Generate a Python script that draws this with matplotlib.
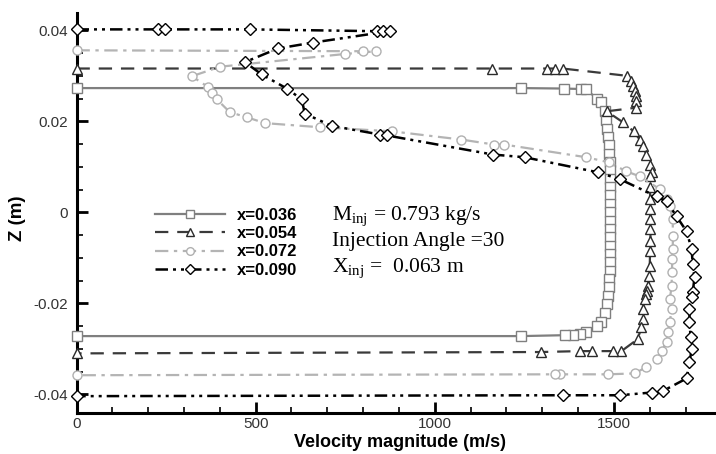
import matplotlib
matplotlib.use("Agg")
import matplotlib.pyplot as plt

plt.rcParams['font.family'] = ['Liberation Sans', 'DejaVu Sans']
plt.rcParams['mathtext.fontset'] = 'custom'
plt.rcParams['mathtext.rm'] = 'Liberation Serif'
plt.rcParams['mathtext.it'] = 'Liberation Serif:italic'

labels = ["x=0.036", "x=0.054", "x=0.072", "x=0.090"]

v036 = [0, 1242, 1360, 1407, 1423, 1452, 1465, 1474, 1479, 1482, 1484, 1486, 1487, 1488,
        1488, 1489, 1489, 1490, 1490, 1490, 1490, 1490, 1490, 1490, 1489, 1489, 1488, 1487,
        1486, 1484, 1481, 1476, 1465, 1452, 1423, 1405, 1385, 1363, 1242, 0]
z036 = [0.0273, 0.0273, 0.0272, 0.0271, 0.0270, 0.0250, 0.0242, 0.0222, 0.0202, 0.0183,
        0.0165, 0.0147, 0.0128, 0.0110, 0.0092, 0.0073, 0.0055, 0.0037, 0.0018, 0.0,
        -0.0018, -0.0037, -0.0055, -0.0073, -0.0092, -0.0110, -0.0128, -0.0147, -0.0165,
        -0.0183, -0.0202, -0.0222, -0.0242, -0.0250, -0.0264, -0.0268, -0.0269, -0.0270,
        -0.0272, -0.0272]

v054 = [0, 1159, 1312, 1337, 1357, 1536, 1549, 1553, 1558, 1561, 1563, 1563, 1480, 1525,
        1555, 1572, 1580, 1591, 1600, 1605, 1601, 1601, 1601, 1602, 1602, 1602, 1602, 1601,
        1600, 1598, 1596, 1593, 1591, 1586, 1580, 1580, 1577, 1566, 1521, 1497, 1438, 1405,
        1296, 0]
z054 = [0.0316, 0.0316, 0.0316, 0.0316, 0.0316, 0.0300, 0.0288, 0.0277, 0.0266, 0.0255,
        0.0244, 0.0230, 0.0222, 0.0198, 0.0178, 0.0160, 0.0145, 0.0127, 0.0105, 0.0088,
        0.0079, 0.0055, 0.0029, 0.0007, -0.0015, -0.0037, -0.0064, -0.0086, -0.0119,
        -0.0141, -0.0163, -0.0174, -0.0180, -0.0191, -0.0213, -0.0235, -0.0253, -0.0279,
        -0.0305, -0.0305, -0.0305, -0.0305, -0.0307, -0.0310]

v072 = [0, 800, 837, 750, 401, 322, 368, 378, 392, 428, 475, 526, 679, 880, 1073, 1165,
        1193, 1423, 1485, 1535, 1572, 1628, 1647, 1656, 1664, 1665, 1664, 1663, 1662, 1661,
        1656, 1661, 1656, 1650, 1647, 1633, 1619, 1591, 1558, 1483, 1349, 1335, 0]
z072 = [0.0356, 0.0354, 0.0354, 0.0348, 0.0320, 0.0299, 0.0275, 0.0262, 0.0248, 0.0220,
        0.0209, 0.0196, 0.0187, 0.0178, 0.0160, 0.0149, 0.0149, 0.0121, 0.0110, 0.0090,
        0.0079, 0.0051, 0.0029, 0.0013, -0.0015, -0.0053, -0.0081, -0.0103, -0.0132,
        -0.0163, -0.0191, -0.0213, -0.0242, -0.0264, -0.0284, -0.0305, -0.0323, -0.0340,
        -0.0354, -0.0356, -0.0356, -0.0356, -0.0358]

v090 = [0, 228, 247, 484, 838, 855, 874, 660, 562, 470, 517, 587, 629, 637, 712, 847, 866,
        1162, 1251, 1455, 1516, 1619, 1647, 1675, 1703, 1717, 1720, 1725, 1720, 1717, 1711,
        1711, 1714, 1717, 1711, 1703, 1636, 1605, 1516, 1357, 0]
z090 = [0.0402, 0.0402, 0.0402, 0.0402, 0.0398, 0.0398, 0.0398, 0.0373, 0.0360, 0.0330,
        0.0303, 0.0272, 0.0248, 0.0217, 0.0190, 0.0171, 0.0169, 0.0127, 0.0121, 0.0088,
        0.0073, 0.0035, 0.0024, -0.0009, -0.0042, -0.0081, -0.0114, -0.0143, -0.0176,
        -0.0185, -0.0213, -0.0242, -0.0273, -0.0301, -0.0330, -0.0365, -0.0393, -0.0396,
        -0.0402, -0.0402, -0.0404]

xticks = [0, 500, 1000, 1500]
yticks = [-0.04, -0.02, 0, 0.02, 0.04]
yticklabels = ["-0.04", "-0.02", "0", "0.02", "0.04"]

series = [
    (v036, z036, dict(color='#7f7f7f', ls='-', marker='s', mec='#7f7f7f', lw=1.6)),
    (v054, z054, dict(color='#3a3a3a', ls=(0, (6, 4)), marker='^', mec='#2a2a2a', lw=1.6)),
    (v072, z072, dict(color='#b4b4b4', ls=(0, (6, 2.5, 1.5, 2.5)), marker='o', mec='#b0b0b0', lw=1.6)),
    (v090, z090, dict(color='black', ls=(0, (5, 2, 1.2, 2, 1.2, 2)), marker='D', mec='black', lw=1.8)),
]

fig = plt.figure(figsize=(7.16, 4.54), dpi=100)
ax = fig.add_axes([76.5 / 716, 1 - 413 / 454, (716 - 76.5) / 716, 400 / 454])

handles = []
for (v, z, st), lab in zip(series, labels):
    ms = 6.5 if st['marker'] != 'D' else 6.0
    h, = ax.plot(v, z, color=st['color'], ls=st['ls'], lw=st['lw'], marker=st['marker'],
                 ms=ms, mfc='white', mec=st['mec'], mew=1.0, label=lab, zorder=3,
                 clip_on=False)
    handles.append(h)

ax.set_xlim(0, 1785)
ax.set_ylim(-0.0441, 0.0438)
ax.set_xticks(xticks)
ax.set_yticks(yticks)
ax.set_yticklabels(yticklabels)
ax.set_xticks(range(0, 1800, 100), minor=True)
ax.set_yticks([i * 0.005 for i in range(-8, 9)], minor=True)

for s in ['top', 'right']:
    ax.spines[s].set_visible(False)
for s in ['left', 'bottom']:
    ax.spines[s].set_linewidth(2.2)
ax.tick_params(which='major', direction='in', length=8, width=2, labelsize=11,
               labelcolor='#333333', pad=6)
ax.tick_params(axis='x', which='major', pad=3)
ax.tick_params(which='minor', direction='in', length=4, width=1.2)

ax.set_xlabel("Velocity magnitude (m/s)", fontsize=13, fontweight='bold')
ax.xaxis.set_label_coords((400 - 76.5) / 639.5, (413 - 434) / 400)
ax.set_ylabel("Z (m)", fontsize=13.5, fontweight='bold')
ax.yaxis.set_label_coords((18 - 76.5) / 639.5, (413 - 218) / 400)
ax.yaxis.label.set_va('center')

leg = ax.legend(handles=handles, loc='upper left', bbox_to_anchor=(0.112, 0.53),
                frameon=False, prop={'weight': 'bold', 'size': 12}, handlelength=4.2,
                labelspacing=0.2, handletextpad=0.7, borderaxespad=0, markerscale=0.85)

tkw = dict(transform=ax.transData, fontsize=15.5, va='center', ha='left',
           family='Liberation Serif')
ax.text(712, -0.0009, r"$\mathrm{M_{inj}}$" + " = 0.793 kg/s", **tkw)
ax.text(712, -0.0065, "Injection Angle =30", **tkw)
ax.text(712, -0.0123, r"$\mathrm{X_{inj}}$" + " =  0.063 m", **tkw)

fig.savefig("out.png", dpi=100)
